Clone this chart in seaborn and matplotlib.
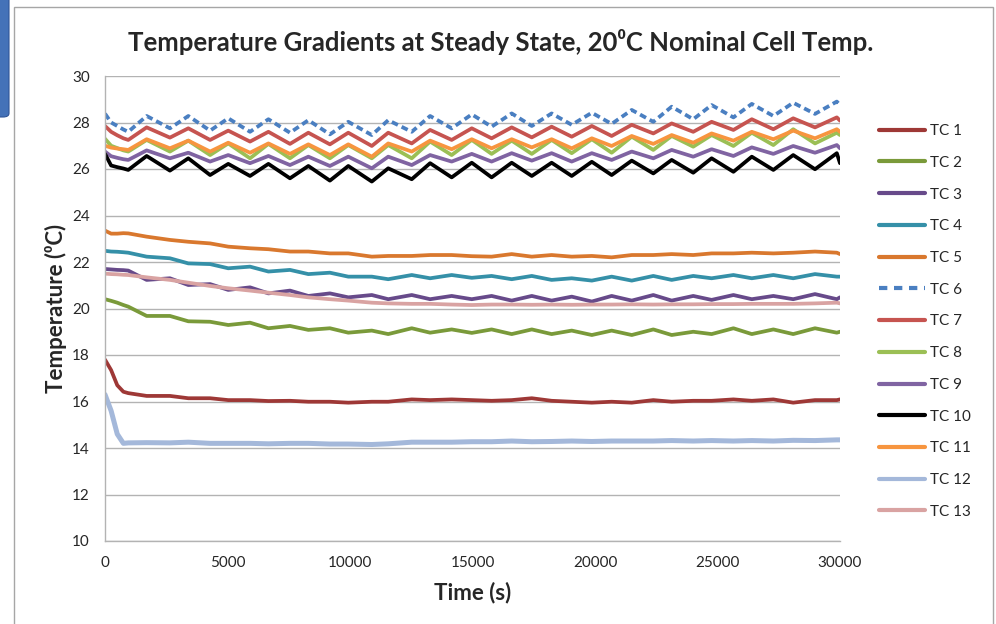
import matplotlib
matplotlib.use("Agg")
import matplotlib.pyplot as plt
from matplotlib.patches import Rectangle, FancyBboxPatch
import seaborn as sns
import pandas as pd

# Sample times (s)
time_s = [0, 250, 500, 750,
          950, 1700, 2650, 3400, 4290, 5030, 5920, 6670, 7550, 8300, 9180, 9930, 10890, 11560, 12520, 13270, 14150, 14970,
          15780, 16600, 17420, 18230, 19050, 19870, 20680, 21500, 22380, 23130, 24010, 24760, 25650, 26400, 27280, 28090,
          28980, 29870, 30000]

tc1 = [17.8, 17.35, 16.7, 16.42,
       16.36, 16.24, 16.24, 16.14, 16.14, 16.06, 16.06, 16.02, 16.03, 15.99, 15.99, 15.95, 15.99, 15.99, 16.09, 16.06, 16.09, 16.06,
       16.03, 16.06, 16.14, 16.03, 15.99, 15.95, 15.99, 15.95, 16.06, 15.99, 16.03, 16.03, 16.09, 16.03, 16.09, 15.95, 16.06, 16.06, 16.09]
tc2 = [20.4, 20.33, 20.25, 20.15,
       20.08, 19.68, 19.68, 19.45, 19.43, 19.29, 19.39, 19.15, 19.25, 19.08, 19.15, 18.96, 19.05, 18.9, 19.15, 18.96, 19.1, 18.95,
       19.1, 18.9, 19.1, 18.9, 19.05, 18.86, 19.05, 18.86, 19.1, 18.86, 19.0, 18.9, 19.15, 18.9, 19.1, 18.9, 19.15, 18.96, 19.0]
tc3 = [21.7, 21.68, 21.66, 21.65,
       21.63, 21.23, 21.3, 21.01, 21.05, 20.8, 20.91, 20.65, 20.77, 20.54, 20.65, 20.48, 20.58, 20.4, 20.58, 20.4, 20.54, 20.4,
       20.54, 20.34, 20.54, 20.34, 20.51, 20.3, 20.54, 20.34, 20.58, 20.34, 20.54, 20.37, 20.58, 20.4, 20.54, 20.4, 20.62, 20.4, 20.48]
tc4 = [22.48, 22.45, 22.44, 22.42,
       22.4, 22.23, 22.16, 21.94, 21.91, 21.73, 21.8, 21.59, 21.66, 21.48, 21.54, 21.37, 21.37, 21.26, 21.44, 21.3, 21.44, 21.32,
       21.4, 21.26, 21.4, 21.23, 21.3, 21.2, 21.37, 21.2, 21.4, 21.23, 21.4, 21.3, 21.44, 21.3, 21.44, 21.3, 21.48, 21.37, 21.37]
tc5 = [23.35, 23.22, 23.22, 23.24,
       23.23, 23.09, 22.95, 22.87, 22.8, 22.66, 22.59, 22.55, 22.45, 22.45, 22.37, 22.37, 22.23, 22.26, 22.26, 22.3, 22.3, 22.25,
       22.23, 22.34, 22.23, 22.3, 22.23, 22.26, 22.2, 22.3, 22.3, 22.34, 22.3, 22.37, 22.37, 22.4, 22.37, 22.4, 22.45, 22.4, 22.34]
tc6 = [28.38, 28.0, 27.85, 27.7,
       27.6, 28.28, 27.75, 28.28, 27.65, 28.18, 27.6, 28.14, 27.56, 28.1, 27.49, 28.03, 27.46, 28.1, 27.6, 28.28, 27.75, 28.35,
       27.82, 28.39, 27.85, 28.39, 27.9, 28.42, 27.94, 28.54, 28.03, 28.68, 28.14, 28.75, 28.22, 28.8, 28.28, 28.85, 28.37, 28.9, 28.75]
tc7 = [27.85, 27.6, 27.45, 27.32,
       27.25, 27.79, 27.35, 27.75, 27.25, 27.65, 27.18, 27.6, 27.08, 27.56, 27.06, 27.56, 26.99, 27.56, 27.1, 27.68, 27.25, 27.75,
       27.32, 27.79, 27.36, 27.82, 27.39, 27.85, 27.42, 27.9, 27.53, 27.96, 27.6, 28.03, 27.68, 28.14, 27.71, 28.18, 27.79, 28.22, 28.08]
tc8 = [27.3, 27.0, 26.9, 26.8,
       26.75, 27.25, 26.75, 27.22, 26.6, 27.1, 26.46, 27.08, 26.46, 27.03, 26.46, 27.03, 26.46, 27.03, 26.46, 27.18, 26.6, 27.25,
       26.65, 27.22, 26.65, 27.25, 26.68, 27.28, 26.7, 27.39, 26.82, 27.42, 26.96, 27.46, 26.99, 27.56, 27.03, 27.71, 27.1, 27.56, 27.46]
tc9 = [26.75, 26.55, 26.48, 26.42,
       26.39, 26.8, 26.46, 26.7, 26.32, 26.6, 26.25, 26.56, 26.17, 26.53, 26.13, 26.53, 26.03, 26.53, 26.17, 26.6, 26.32, 26.65,
       26.32, 26.68, 26.36, 26.68, 26.32, 26.68, 26.39, 26.75, 26.46, 26.82, 26.53, 26.85, 26.56, 26.93, 26.65, 26.99, 26.7, 27.03, 26.89]
tc10 = [26.65, 26.15, 26.08, 26.02,
        25.96, 26.56, 25.93, 26.46, 25.74, 26.22, 25.7, 26.22, 25.6, 26.13, 25.5, 26.13, 25.46, 26.03, 25.56, 26.25, 25.64, 26.27,
        25.64, 26.27, 25.7, 26.27, 25.7, 26.31, 25.74, 26.36, 25.81, 26.39, 25.84, 26.46, 25.88, 26.53, 25.96, 26.6, 25.99, 26.68, 26.25]
tc11 = [27.0, 26.92, 26.88, 26.85,
        26.82, 27.28, 26.89, 27.22, 26.75, 27.13, 26.7, 27.1, 26.65, 27.06, 26.6, 27.06, 26.53, 27.1, 26.75, 27.22, 26.85, 27.28,
        26.89, 27.28, 26.93, 27.28, 26.89, 27.32, 26.99, 27.42, 27.08, 27.46, 27.13, 27.53, 27.22, 27.6, 27.28, 27.65, 27.32, 27.71, 27.6]
tc12 = [16.3, 15.6, 14.6, 14.2,
        14.22, 14.23, 14.22, 14.25, 14.2, 14.2, 14.2, 14.18, 14.2, 14.2, 14.17, 14.17, 14.15, 14.18, 14.25, 14.25, 14.25, 14.27,
        14.27, 14.3, 14.27, 14.28, 14.3, 14.28, 14.3, 14.3, 14.3, 14.32, 14.3, 14.32, 14.3, 14.32, 14.3, 14.33, 14.32, 14.35, 14.35]
tc13 = [21.5, 21.48, 21.47, 21.45,
        21.44, 21.34, 21.23, 21.11, 20.97, 20.87, 20.77, 20.68, 20.58, 20.48, 20.4, 20.34, 20.25, 20.22, 20.2, 20.2, 20.17, 20.15,
        20.17, 20.17, 20.16, 20.17, 20.16, 20.17, 20.17, 20.18, 20.17, 20.18, 20.18, 20.19, 20.19, 20.2, 20.2, 20.2, 20.22, 20.25, 20.22]

series_names = ["TC 1", "TC 2", "TC 3", "TC 4", "TC 5", "TC 6", "TC 7",
                "TC 8", "TC 9", "TC 10", "TC 11", "TC 12", "TC 13"]
series_values = [tc1, tc2, tc3, tc4, tc5, tc6, tc7, tc8, tc9, tc10, tc11, tc12, tc13]
series_colors = ["#9E3836", "#7A9A3A", "#674A8A", "#3590A8", "#D9782E", "#4A7FC1", "#C65450",
                 "#9BBF55", "#8064A2", "#000000", "#F7953F", "#A4B8DA", "#D9A3A2"]

x_ticks = [0, 5000, 10000, 15000, 20000, 25000, 30000]
y_ticks = [10, 12, 14, 16, 18, 20, 22, 24, 26, 28, 30]

df = pd.DataFrame({
    "Time (s)": time_s * len(series_names),
    "Temperature": [v for vals in series_values for v in vals],
    "Sensor": [name for name, vals in zip(series_names, series_values) for _ in vals],
})

sns.set_style("white")
plt.rcParams["font.family"] = ["Lato", "DejaVu Sans"]

fig = plt.figure(figsize=(9.96, 6.24), dpi=100)
ax = fig.add_axes([105 / 996, 1 - 541 / 624, 735 / 996, 465 / 624])

# Slide frame around the chart
fig.patches.append(Rectangle((14 / 996, -0.05), 979 / 996, 1.05 - 7 / 624,
                             transform=fig.transFigure, fill=False,
                             edgecolor="#A6A6A6", linewidth=1.0, zorder=0))
fig.patches.append(FancyBboxPatch((-0.01, 1 - 117 / 624), 9 / 996 + 0.01, 117 / 624 + 0.01,
                                  boxstyle="round,pad=0,rounding_size=0.006",
                                  transform=fig.transFigure, facecolor="#4472B8",
                                  edgecolor="#2F5597", linewidth=0.8, zorder=0))

for name, color in zip(series_names, series_colors):
    sub = df[df["Sensor"] == name]
    lw = 2.7
    if name == "TC 12":
        lw = 3.6
    sns.lineplot(data=sub, x="Time (s)", y="Temperature", ax=ax, color=color,
                 linewidth=lw, label=name, estimator=None, sort=False)
    if name == "TC 6":
        ax.lines[-1].set_dashes((1.8, 1.1))

ax.set_xlim(0, 30000)
ax.set_ylim(10, 30)
ax.set_xticks(x_ticks)
ax.set_yticks(y_ticks)
ax.tick_params(axis="both", length=0, labelsize=11, colors="#262626")
ax.tick_params(axis="y", pad=11)
ax.tick_params(axis="x", pad=11)

ax.grid(axis="y", color="#B3B3B3", linewidth=1.0)
ax.grid(axis="x", visible=False)
for side in ["top", "right"]:
    ax.spines[side].set_visible(False)
for side in ["left", "bottom"]:
    ax.spines[side].set_color("#B3B3B3")
    ax.spines[side].set_linewidth(1.0)

ax.set_xlabel("Time (s)", fontsize=16, fontweight="bold", labelpad=8.5)
ax.set_ylabel("Temperature (\u2070C)", fontsize=16, fontweight="bold", labelpad=3.5)

fig.text(0.503, 1 - 51 / 624, "Temperature Gradients at Steady State, 20\u2070C Nominal Cell Temp.",
         ha="center", va="baseline", fontsize=18.5, fontweight="bold")

handles, labels = ax.get_legend_handles_labels()
leg = ax.legend(handles, labels, loc="upper left", bbox_to_anchor=(873 / 996, 1 - 118 / 624),
                bbox_transform=fig.transFigure, frameon=False, fontsize=11,
                handlelength=3.0, handletextpad=0.3, labelspacing=1.16, borderaxespad=0)
for line in leg.get_lines():
    line.set_linewidth(3.0)
leg.get_lines()[5].set_dashes((2.0, 1.6))

fig.savefig("out.png", dpi=100, facecolor="white")
